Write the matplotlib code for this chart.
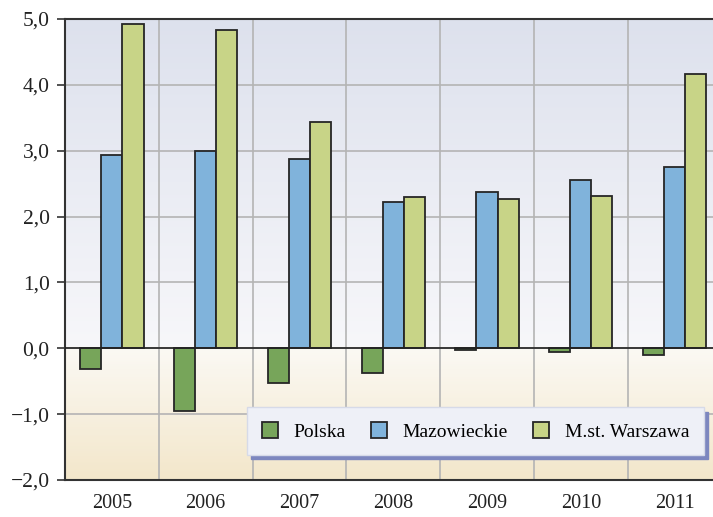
import numpy as np
import matplotlib
matplotlib.use('Agg')
import matplotlib.pyplot as plt
from matplotlib.colors import LinearSegmentedColormap

# data
years = ['2005', '2006', '2007', '2008', '2009', '2010', '2011']
polska = [-0.32, -0.95, -0.52, -0.37, -0.03, -0.05, -0.10]
mazowieckie = [2.94, 2.99, 2.87, 2.22, 2.37, 2.56, 2.75]
warszawa = [4.92, 4.84, 3.43, 2.29, 2.26, 2.31, 4.16]
series_names = ['Polska', 'Mazowieckie', 'M.st. Warszawa']
colors = ['#77a55a', '#80b3db', '#c8d487']
yticks = [-2, -1, 0, 1, 2, 3, 4, 5]
ytick_labels = ['\u22122,0', '\u22121,0', '0,0', '1,0', '2,0', '3,0', '4,0', '5,0']

plt.rcParams['font.family'] = ['Liberation Serif', 'DejaVu Serif']

fig = plt.figure(figsize=(7.13, 5.17), dpi=100)
ax = fig.add_axes([65 / 713, 37 / 517, 1 - 65 / 713, 461 / 517])

ymin, ymax = -2, 5
x = np.arange(len(years))
xlim = (-0.5, 6.41)

# background gradient: bluish above zero, cream below
zero_frac = (0 - ymin) / (ymax - ymin)
cmap = LinearSegmentedColormap.from_list('bg', [(0, '#f3e7cb'), (zero_frac, '#fbf9f4'),
                                                 (zero_frac + 0.001, '#f7f7fa'), (1, '#dde1ed')])
grad = np.linspace(0, 1, 400).reshape(-1, 1)
ax.imshow(grad, cmap=cmap, aspect='auto', origin='lower',
          extent=(xlim[0], xlim[1], ymin, ymax), zorder=0)

w = 0.225
for i, (vals, c, name) in enumerate(zip([polska, mazowieckie, warszawa], colors, series_names)):
    ax.bar(x + (i - 1) * w, vals, w, color=c, edgecolor='#262626', linewidth=1.3,
           label=name, zorder=3)

# grid
for yv in yticks:
    ax.axhline(yv, color='#b4b4b4', linewidth=1.2, zorder=1)
for xv in np.arange(0.5, 6.5, 1):
    ax.axvline(xv, color='#b4b4b4', linewidth=1.2, zorder=1)
ax.axhline(0, color='#222222', linewidth=1.2, zorder=4)

ax.set_xlim(*xlim)
ax.set_ylim(ymin, ymax)
ax.set_yticks(yticks)
ax.set_yticklabels(ytick_labels, fontsize=15.5, color='#222222')
ax.set_xticks(x)
ax.set_xticklabels(years, fontsize=14.5, color='#222222')
ax.tick_params(axis='x', length=0, pad=10)
ax.tick_params(axis='y', length=6, width=1.2, color='#333333', pad=5)

for s in ['left', 'bottom', 'top']:
    ax.spines[s].set_color('#333333')
    ax.spines[s].set_linewidth(1.5)
ax.spines['right'].set_visible(False)

leg = ax.legend(loc='lower left', bbox_to_anchor=(0.281, 0.054, 0.705, 0.113), mode='expand',
                ncol=3, fontsize=14, frameon=True, fancybox=False, framealpha=1,
                facecolor='#eef0f7', edgecolor='#d6dae8', handlelength=0.85, handleheight=0.85,
                borderaxespad=0, borderpad=0.75, columnspacing=1.6, handletextpad=0.8,
                shadow={'color': '#7d87bf', 'alpha': 1, 'ox': 3, 'oy': -3})
leg.set_zorder(10)

fig.savefig('out.png', dpi=100)
